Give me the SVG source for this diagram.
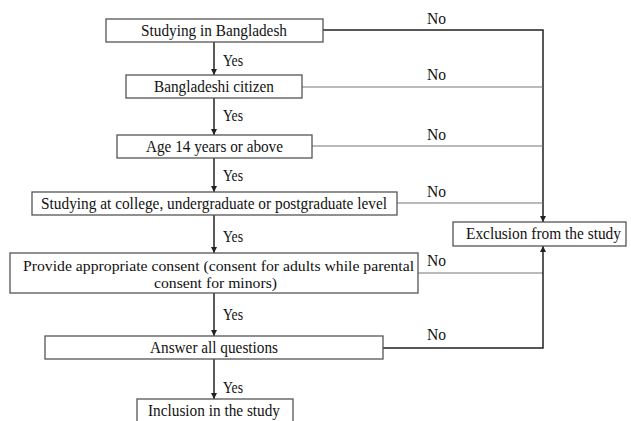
<svg xmlns="http://www.w3.org/2000/svg" width="631" height="421" viewBox="0 0 631 421">
<defs>
<marker id="arr" viewBox="0 0 10 10" refX="10" refY="5" markerWidth="6" markerHeight="6" markerUnits="userSpaceOnUse" orient="auto">
<path d="M0,0 L10,5 L0,10 z" fill="#222"/>
</marker>
<style>
.box{fill:#fff;stroke:#555;stroke-width:1.3}
.t{font-family:"Liberation Serif","Times New Roman",serif;font-size:16.5px;fill:#111}
.t2{font-family:"Liberation Serif","Times New Roman",serif;font-size:15px;fill:#111}
.main{stroke:#222;stroke-width:1.5;fill:none}
.thin{stroke:#777;stroke-width:1.1;fill:none}
</style>
</defs>
<rect width="631" height="421" fill="#fff"/>
<g id="connectors">
<line class="main" x1="214" y1="42" x2="214" y2="75" marker-end="url(#arr)"/>
<line class="main" x1="214" y1="98" x2="214" y2="135" marker-end="url(#arr)"/>
<line class="main" x1="214" y1="158" x2="214" y2="192" marker-end="url(#arr)"/>
<line class="main" x1="214" y1="215" x2="214" y2="253" marker-end="url(#arr)"/>
<line class="main" x1="214" y1="293" x2="214" y2="336" marker-end="url(#arr)"/>
<line class="main" x1="214" y1="359" x2="214" y2="399" marker-end="url(#arr)"/>
<polyline class="main" points="323,30 543,30 543,222" marker-end="url(#arr)"/>
<line class="thin" x1="302" y1="87" x2="543" y2="87"/>
<line class="thin" x1="312" y1="146" x2="543" y2="146"/>
<line class="thin" x1="397" y1="203" x2="543" y2="203"/>
<line class="thin" x1="418" y1="273" x2="543" y2="273"/>
<polyline class="main" points="383,348 543,348 543,246" marker-end="url(#arr)"/>
<text class="t" x="223" y="66" textLength="20" lengthAdjust="spacingAndGlyphs">Yes</text>
<text class="t" x="223" y="121" textLength="20" lengthAdjust="spacingAndGlyphs">Yes</text>
<text class="t" x="223" y="181" textLength="20" lengthAdjust="spacingAndGlyphs">Yes</text>
<text class="t" x="223" y="242" textLength="20" lengthAdjust="spacingAndGlyphs">Yes</text>
<text class="t" x="223" y="320" textLength="20" lengthAdjust="spacingAndGlyphs">Yes</text>
<text class="t" x="223" y="393" textLength="20" lengthAdjust="spacingAndGlyphs">Yes</text>
<text class="t" x="427" y="24" textLength="19" lengthAdjust="spacingAndGlyphs">No</text>
<text class="t" x="427" y="80" textLength="19" lengthAdjust="spacingAndGlyphs">No</text>
<text class="t" x="427" y="140" textLength="19" lengthAdjust="spacingAndGlyphs">No</text>
<text class="t" x="427" y="197" textLength="19" lengthAdjust="spacingAndGlyphs">No</text>
<text class="t" x="427" y="266" textLength="19" lengthAdjust="spacingAndGlyphs">No</text>
<text class="t" x="427" y="340" textLength="19" lengthAdjust="spacingAndGlyphs">No</text>
</g>
<g id="n1"><rect class="box" x="106" y="19" width="217" height="23"/><text class="t" x="141" y="36" textLength="146" lengthAdjust="spacingAndGlyphs">Studying in Bangladesh</text></g>
<g id="n2"><rect class="box" x="126" y="75" width="176" height="23"/><text class="t" x="154" y="92" textLength="120" lengthAdjust="spacingAndGlyphs">Bangladeshi citizen</text></g>
<g id="n3"><rect class="box" x="117" y="135" width="195" height="23"/><text class="t" x="146" y="152" textLength="137" lengthAdjust="spacingAndGlyphs">Age 14 years or above</text></g>
<g id="n4"><rect class="box" x="32" y="192" width="365" height="23"/><text class="t" x="41" y="209" textLength="346" lengthAdjust="spacingAndGlyphs">Studying at college, undergraduate or postgraduate level</text></g>
<g id="n5"><rect class="box" x="10" y="253" width="408" height="40"/><text class="t2" x="23" y="270.5" textLength="391" lengthAdjust="spacingAndGlyphs">Provide appropriate consent (consent for adults while parental</text><text class="t2" x="154" y="287.5" textLength="123" lengthAdjust="spacingAndGlyphs">consent for minors)</text></g>
<g id="n6"><rect class="box" x="45" y="336" width="338" height="23"/><text class="t" x="150" y="353" textLength="128" lengthAdjust="spacingAndGlyphs">Answer all questions</text></g>
<g id="n7"><rect class="box" x="137" y="399" width="156" height="30"/><text class="t" x="148" y="416" textLength="132" lengthAdjust="spacingAndGlyphs">Inclusion in the study</text></g>
<g id="n8"><rect class="box" x="453" y="222" width="173" height="24"/><text class="t" x="466" y="239" textLength="155" lengthAdjust="spacingAndGlyphs">Exclusion from the study</text></g>
</svg>
